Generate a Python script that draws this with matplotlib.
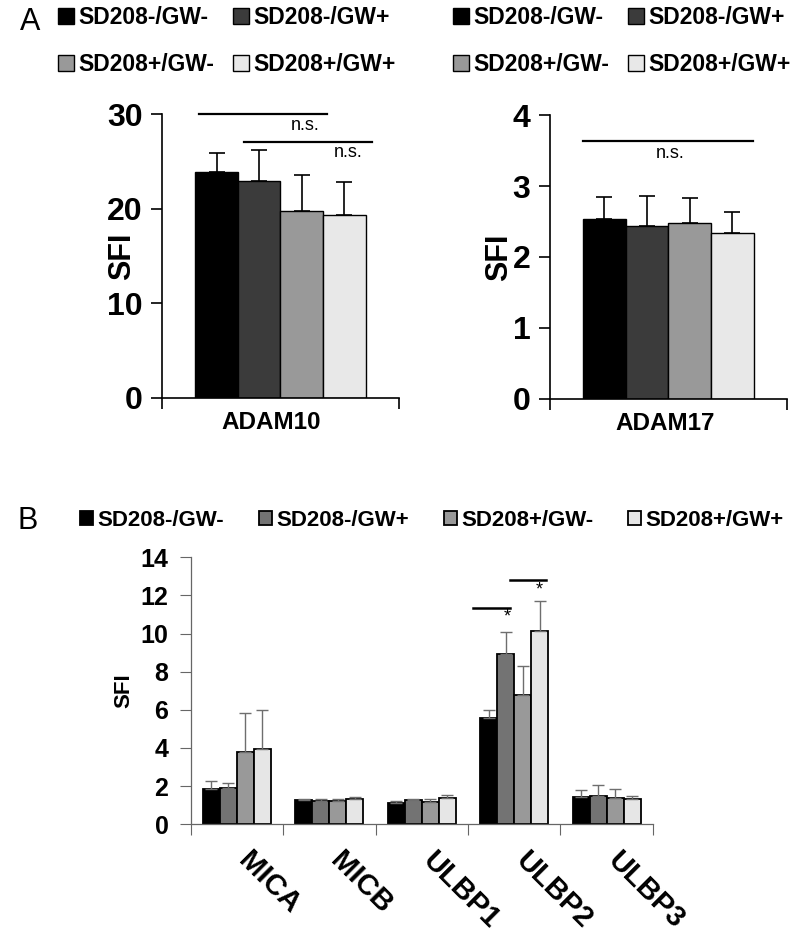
import numpy as np
import matplotlib.pyplot as plt

plt.rcParams['font.family'] = ['Liberation Sans', 'DejaVu Sans']

groups = ["SD208-/GW-", "SD208-/GW+", "SD208+/GW-", "SD208+/GW+"]

# panel A
adam10_mean = [23.9, 22.9, 19.8, 19.3]
adam10_err = [2.0, 3.3, 3.8, 3.5]
adam17_mean = [2.54, 2.44, 2.48, 2.34]
adam17_err = [0.31, 0.42, 0.35, 0.30]

# panel B
ligands = ["MICA", "MICB", "ULBP1", "ULBP2", "ULBP3"]
b_mean = np.array([
    [1.87, 1.25, 1.13, 5.59, 1.42],
    [1.90, 1.20, 1.25, 8.91, 1.50],
    [3.79, 1.20, 1.15, 6.76, 1.37],
    [3.97, 1.30, 1.38, 10.15, 1.33],
])
b_err = np.array([
    [0.37, 0.07, 0.10, 0.40, 0.38],
    [0.27, 0.10, 0.08, 1.17, 0.53],
    [2.06, 0.13, 0.15, 1.52, 0.50],
    [2.02, 0.15, 0.14, 1.55, 0.17],
])

colA = ["#000000", "#3b3b3b", "#999999", "#e8e8e8"]
colB = ["#000000", "#737373", "#999999", "#e6e6e6"]

fig = plt.figure(figsize=(7.98, 9.43), dpi=100)


def adam_panel(rect, mean, err, ymax, step, label, lab_x, ylab_x):
    ax = fig.add_axes(rect)
    w = 0.18
    xs = 0.5 + (np.arange(4) - 1.5) * w
    bars = []
    for k in range(4):
        b = ax.bar(xs[k], mean[k], w, color=colA[k], edgecolor="black", linewidth=1.0,
                   yerr=[[0], [err[k]]], capsize=5.5,
                   error_kw=dict(ecolor="black", elinewidth=1.2, capthick=1.2), zorder=2)
        bars.append(b)
    ax.set_xlim(0, 1)
    ax.set_ylim(0, ymax)
    ax.set_yticks(np.arange(0, ymax + step / 2, step))
    ax.set_yticklabels([str(int(v)) for v in np.arange(0, ymax + step / 2, step)],
                       fontsize=23, fontweight="bold")
    ax.set_xticks([0, 1])
    ax.set_xticklabels(["", ""])
    ax.tick_params(axis="both", direction="out", length=8, width=1.2, pad=6)
    ax.spines[["top", "right"]].set_visible(False)
    ax.spines[["left", "bottom"]].set_linewidth(1.2)
    ax.set_ylabel("SFI", fontsize=22, fontweight="bold")
    ax.yaxis.set_label_coords(ylab_x, 0.5)
    ax.text(lab_x, -0.045, label, transform=ax.transAxes, ha="center", va="top",
            fontsize=17.5, fontweight="bold")
    return ax, bars


axL, barsL = adam_panel([0.203, 0.578, 0.297, 0.301], adam10_mean, adam10_err, 30, 10,
                        "ADAM10", 0.46, -0.105)
axR, barsR = adam_panel([0.689, 0.577, 0.297, 0.301], adam17_mean, adam17_err, 4, 1,
                        "ADAM17", 0.485, -0.15)

# significance marks, panel A
axL.plot([0.156, 0.696], [30, 30], color="black", lw=1.6, clip_on=False)
axL.text(0.603, 28.8, "n.s.", ha="center", va="center", fontsize=13)
axL.plot([0.346, 0.886], [27.0, 27.0], color="black", lw=1.6, clip_on=False)
axL.text(0.785, 25.9, "n.s.", ha="center", va="center", fontsize=13)
axR.plot([0.139, 0.857], [3.63, 3.63], color="black", lw=1.6)
axR.text(0.506, 3.46, "n.s.", ha="center", va="center", fontsize=13)

# legend filled column-wise, so reorder to read row by row
order = [0, 2, 1, 3]
legA = dict(frameon=False, borderpad=0, borderaxespad=0, handlelength=0.7, handleheight=0.7,
            handletextpad=0.2, columnspacing=0.8, labelspacing=1.05,
            prop=dict(size=16.5, weight="bold"), ncol=2, loc="upper left")
fig.legend([barsL[i].patches[0] for i in order], [groups[i] for i in order],
           bbox_to_anchor=(58 / 798, 1 - 6 / 943), **legA)
fig.legend([barsR[i].patches[0] for i in order], [groups[i] for i in order],
           bbox_to_anchor=(453 / 798, 1 - 6 / 943), **legA)
fig.text(20 / 798, 1 - 22 / 943, "A", fontsize=22, va="center", ha="left")

# panel B
axB = fig.add_axes([0.239, 0.126, 0.579, 0.283])
w = 0.184
gx = np.arange(len(ligands)) + 0.5
barsB = []
for k in range(4):
    b = axB.bar(gx + (k - 1.5) * w, b_mean[k], w, color=colB[k], edgecolor="black", linewidth=1.3,
                yerr=[np.zeros(len(ligands)), b_err[k]], capsize=4,
                error_kw=dict(ecolor="#6e6e6e", elinewidth=1.0, capthick=1.0), zorder=2)
    barsB.append(b)
axB.set_xlim(0, 5)
axB.set_ylim(0, 14)
axB.set_yticks(np.arange(0, 15, 2))
axB.set_yticklabels([str(v) for v in range(0, 15, 2)], fontsize=18, fontweight="bold")
axB.set_xticks(np.arange(0, 6))
axB.set_xticklabels([])
axB.tick_params(axis="both", direction="out", length=8, width=0.8, color="#666666", pad=8)
axB.spines[["top", "right"]].set_visible(False)
axB.spines[["left", "bottom"]].set_color("#666666")
axB.spines[["left", "bottom"]].set_linewidth(0.9)
axB.set_ylabel("SFI", fontsize=16, fontweight="bold")
axB.yaxis.set_label_coords(-0.122, 0.5)
for i, name in enumerate(ligands):
    axB.text(gx[i] + 0.06, -1.7, name, rotation=-45, rotation_mode="anchor",
             ha="left", va="center", fontsize=21, fontweight="bold")

axB.plot([3.05, 3.46], [11.32, 11.32], color="black", lw=1.8)
axB.text(3.42, 10.85, "*", ha="center", va="center", fontsize=13)
axB.plot([3.45, 3.85], [12.79, 12.79], color="black", lw=1.8)
axB.text(3.77, 12.3, "*", ha="center", va="center", fontsize=13)

fig.legend([b.patches[0] for b in barsB], groups, bbox_to_anchor=(80 / 798, 1 - 510 / 943),
           frameon=False, borderpad=0, borderaxespad=0, handlelength=0.6, handleheight=0.6,
           handletextpad=0.2, columnspacing=1.55, prop=dict(size=16, weight="bold"),
           ncol=4, loc="upper left")
fig.text(18 / 798, 1 - 521 / 943, "B", fontsize=22, va="center", ha="left")

fig.savefig("out.png", dpi=100)
